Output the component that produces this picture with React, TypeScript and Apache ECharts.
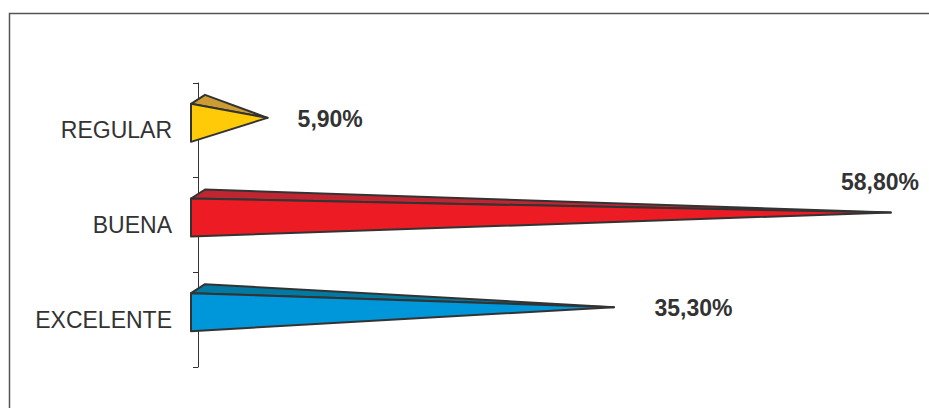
import React, { useEffect, useRef } from "react";
import * as echarts from "echarts";

const categories = ["REGULAR", "BUENA", "EXCELENTE"];
const values = [5.9, 58.8, 35.3];
const valueLabels = ["5,90%", "58,80%", "35,30%"];
const frontColors = ["#FFCB08", "#ED1C24", "#0096DA"];
const topColors = ["#CB9C33", "#BF2632", "#007AA3"];

const FONT = '"Liberation Sans", Arial, Helvetica, sans-serif';

export default function App() {
  const ref = useRef<HTMLDivElement>(null);
  useEffect(() => {
    if (!ref.current) return;
    const chart = echarts.init(ref.current, null, { renderer: "svg" });
    const W = 929;
    const option: any = {
      animation: false,
      backgroundColor: "#ffffff",
      grid: { left: 198, top: 83, height: 284, right: 24 },
      xAxis: {
        type: "value",
        min: 0,
        max: 60,
        show: false,
      },
      yAxis: {
        type: "category",
        data: categories,
        inverse: true,
        offset: 17,
        axisLine: { show: true, lineStyle: { color: "#333333", width: 1 } },
        axisTick: { show: true, length: 5, lineStyle: { color: "#333333", width: 1 } },
        axisLabel: {
          margin: 9,
          color: "#333333",
          fontSize: 23,
          fontFamily: FONT,
          fontWeight: "normal",
        },
        splitLine: { show: false },
      },
      graphic: [
        {
          type: "rect",
          shape: { x: 9.5, y: 13.5, width: 1200, height: 1200 },
          style: { fill: "none", stroke: "#555555", lineWidth: 1.5 },
          silent: true,
        },
      ],
      series: [
        {
          type: "custom",
          data: values.map((v, i) => [v, i]),
          renderItem: (params: any, api: any) => {
            const v = api.value(0);
            const idx = api.value(1);
            const zero = api.coord([0, idx]);
            const tip = api.coord([v, idx]);
            const cy = zero[1];
            const fx = zero[0] - 7;
            const ty = cy - 26.5;
            const by = cy + 11.5;
            const bx = fx + 14;
            const bty = ty - 9;
            const ax = tip[0];
            const ay = cy - 12.5;
            const stroke = { stroke: "#333333", lineWidth: 2, lineJoin: "round" };
            const label = valueLabels[idx];
            const labelW = echarts.format.getTextRect
              ? 0
              : 0;
            let tx = ax + 28 + 0.03 * (ax - zero[0]);
            let tyL = ay + 1;
            let align = "left";
            const estW = label.length * 13;
            if (tx + estW > W - 8) {
              tx = W - 10;
              tyL = ay - 31;
              align = "right";
            }
            return {
              type: "group",
              children: [
                {
                  type: "polygon",
                  shape: { points: [[fx, ty], [bx, bty], [ax, ay]] },
                  style: { fill: topColors[idx], ...stroke },
                },
                {
                  type: "polygon",
                  shape: { points: [[fx, ty], [fx, by], [ax, ay]] },
                  style: { fill: frontColors[idx], ...stroke },
                },
                {
                  type: "text",
                  x: tx,
                  y: tyL,
                  style: {
                    text: label,
                    fill: "#333333",
                    font: `bold 23px ${FONT}`,
                    align,
                    verticalAlign: "middle",
                  },
                },
              ],
            };
          },
        },
      ],
    };
    chart.setOption(option);
    return () => chart.dispose();
  }, []);
  return (
    <div
      ref={ref}
      style={{ position: "absolute", left: 0, top: 0, width: 929, height: 408 }}
    />
  );
}
